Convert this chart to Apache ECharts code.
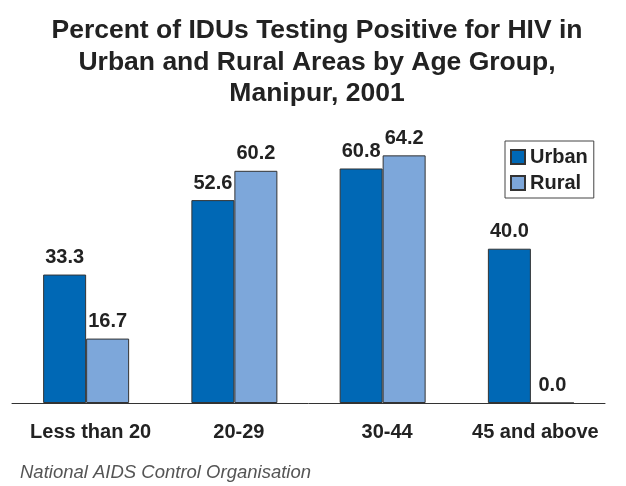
<!DOCTYPE html>
<html>
<head>
<meta charset="utf-8">
<script src="https://cdn.jsdelivr.net/npm/echarts@6/dist/echarts.min.js"></script>
<style>
  html, body { margin: 0; padding: 0; background: #fff; }
  #chart { width: 626px; height: 486px; }
</style>
</head>
<body>
<div id="chart"></div>
<script>
// data
const ageGroups = ['Less than 20', '20-29', '30-44', '45 and above'];
const urbanValues = [33.3, 52.6, 60.8, 40.0];
const ruralValues = [16.7, 60.2, 64.2, 0.0];

const FONT = "'Liberation Sans', Arial, Helvetica, sans-serif";

let chart = echarts.init(document.getElementById('chart'), null, { renderer: 'canvas' });

const valueLabel = {
    show: true,
    position: 'top',
    distance: 7,
    fontFamily: FONT,
    fontSize: 20,
    fontWeight: 'bold',
    color: '#222',
    formatter: p => p.value.toFixed(1)
};

chart.setOption({
    backgroundColor: '#fff',
    animation: false,
    title: {
        text: 'Percent of IDUs Testing Positive for HIV in\nUrban and Rural Areas by Age Group,\nManipur, 2001',
        left: 312,
        top: 10,
        textAlign: 'center',
        textStyle: {
            fontFamily: FONT,
            fontSize: 26.5,
            fontWeight: 'bold',
            color: '#222',
            lineHeight: 31.5
        }
    },
    legend: {
        orient: 'vertical',
        left: 505,
        top: 141,
        padding: [6, 6, 5, 5],
        itemWidth: 14,
        itemHeight: 14,
        itemGap: 6,
        icon: 'rect',
        borderColor: '#444',
        borderWidth: 1,
        textStyle: {
            fontFamily: FONT,
            fontSize: 20,
            fontWeight: 'bold',
            color: '#222'
        },
        data: ['Urban', 'Rural']
    },
    grid: {
        left: 12,
        right: 21,
        top: 133,
        bottom: 83,
        containLabel: false
    },
    xAxis: {
        type: 'category',
        data: ageGroups,
        axisLine: { show: true, lineStyle: { color: '#333', width: 1 } },
        axisTick: { show: false },
        axisLabel: {
            margin: 19,
            interval: 0,
            fontFamily: FONT,
            fontSize: 20,
            fontWeight: 'bold',
            color: '#222',
            padding: [0, 0, 0, 9]
        }
    },
    yAxis: {
        type: 'value',
        min: 0,
        max: 70,
        show: false,
        splitLine: { show: false }
    },
    series: [
        {
            name: 'Urban',
            type: 'bar',
            data: urbanValues,
            barWidth: 43,
            barGap: '0%',
            itemStyle: { color: '#0068b5', borderColor: '#333', borderWidth: 1 },
            label: valueLabel
        },
        {
            name: 'Rural',
            type: 'bar',
            data: ruralValues,
            barWidth: 43,
            barGap: '0%',
            itemStyle: { color: '#7da7da', borderColor: '#333', borderWidth: 1 },
            label: valueLabel
        }
    ],
    graphic: [
        {
            type: 'text',
            left: 20,
            top: 463,
            style: {
                text: 'National AIDS Control Organisation',
                font: 'italic 18.5px ' + FONT,
                fill: '#555'
            }
        }
    ]
});
</script>
</body>
</html>
